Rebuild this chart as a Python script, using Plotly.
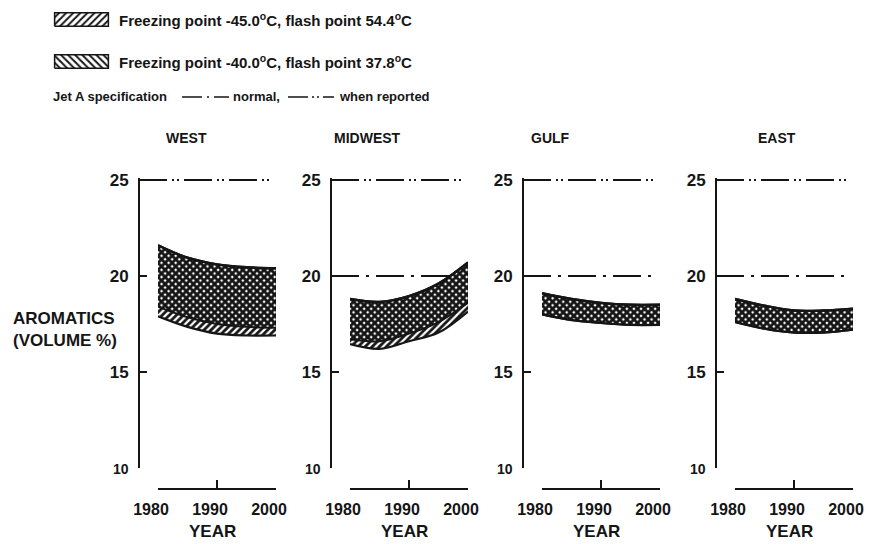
import plotly.graph_objects as go

# ---------------- data ----------------
years = [1980, 1985, 1990, 1995, 2000]
regions = ["WEST", "MIDWEST", "GULF", "EAST"]

# upper edge of both bands (aromatics, volume %)
band_top = {
    "WEST":    [21.6, 20.95, 20.6, 20.45, 20.4],
    "MIDWEST": [18.8, 18.65, 18.95, 19.6, 20.7],
    "GULF":    [19.1, 18.8, 18.6, 18.5, 18.5],
    "EAST":    [18.8, 18.45, 18.2, 18.2, 18.3],
}
# lower edge, freezing point -40.0 C / flash point 37.8 C
low_fp40 = {
    "WEST":    [18.4, 17.85, 17.5, 17.35, 17.3],
    "MIDWEST": [16.7, 16.6, 17.0, 17.6, 18.6],
    "GULF":    [18.0, 17.7, 17.55, 17.45, 17.45],
    "EAST":    [17.6, 17.25, 17.05, 17.05, 17.2],
}
# lower edge, freezing point -45.0 C / flash point 54.4 C
low_fp45 = {
    "WEST":    [17.9, 17.35, 17.0, 16.9, 16.9],
    "MIDWEST": [16.45, 16.2, 16.6, 17.05, 18.15],
    "GULF":    [18.0, 17.7, 17.55, 17.45, 17.45],
    "EAST":    [17.6, 17.25, 17.05, 17.05, 17.2],
}
spec_normal = {"WEST": None, "MIDWEST": 20, "GULF": 20, "EAST": 20}
spec_reported = 25

y_ticks = [10, 15, 20, 25]
y_ticktext = ["<span style='font-size:14px'>10</span>", "15", "20", "25"]
x_ticks = [1980, 1990, 2000]
swatch_x = [0, 1, 1, 0, 0]
swatch_y = [0, 0, 1, 1, 0]

legend_1 = "<b>Freezing point -45.0<sup>o</sup>C, flash point 54.4<sup>o</sup>C</b>"
legend_2 = "<b>Freezing point -40.0<sup>o</sup>C, flash point 37.8<sup>o</sup>C</b>"

# ---------------- layout helpers ----------------
W, H = 869, 544
def fx(px):
    return px / W
def fy(py):
    return 1 - py / H

INK = "#151515"
FONT = "Liberation Sans, Arial, sans-serif"
AX = [139, 331, 523, 716]          # y-axis line positions (px)
DASH_NORMAL = "28px,7px,3px,7px"
DASH_REPORTED = "28px,5px,2px,3px,2px,5px"

fig = go.Figure()
shapes = []
annotations = []
layout = {}

pat_a = dict(shape="/", fgcolor=INK, bgcolor="white", size=5, solidity=0.55, fillmode="replace")
pat_b = dict(shape="\\", fgcolor=INK, bgcolor="rgba(0,0,0,0)", size=5, solidity=0.55, fillmode="replace")

for i, r in enumerate(regions):
    n = i + 1
    xs = "x" if n == 1 else f"x{n}"
    ys = "y" if n == 1 else f"y{n}"
    A = AX[i]
    common = dict(x=years, xaxis=xs, yaxis=ys, mode="lines", line_shape="spline",
                  showlegend=False, hoverinfo="skip")
    # band -45 C (hatched /)
    fig.add_trace(go.Scatter(y=low_fp45[r], line=dict(color=INK, width=2.2), **common))
    fig.add_trace(go.Scatter(y=band_top[r], fill="tonexty", fillcolor="white",
                             fillpattern=pat_a, line=dict(color=INK, width=2.4), **common))
    # band -40 C (hatched \), overlaps to give cross-hatch
    fig.add_trace(go.Scatter(y=low_fp40[r], line=dict(color=INK, width=2.0), **common))
    fig.add_trace(go.Scatter(y=band_top[r], fill="tonexty", fillcolor="rgba(0,0,0,0)",
                             fillpattern=pat_b, line=dict(color=INK, width=2.4), **common))

    xk = "xaxis" if n == 1 else f"xaxis{n}"
    yk = "yaxis" if n == 1 else f"yaxis{n}"
    layout[xk] = dict(domain=[fx(A + 19), fx(A + 137)], range=[1980, 2000],
                      anchor="free", position=fy(489), automargin=False,
                      showline=True, linewidth=2, linecolor=INK,
                      ticks="inside", ticklen=8, tickwidth=2, tickcolor=INK,
                      tickvals=x_ticks, showgrid=False, zeroline=False,
                      ticklabelstandoff=6, ticklabelshift=-7,
                      tickfont=dict(family=FONT, size=16, color=INK, weight="bold"),
                      fixedrange=True)
    layout[yk] = dict(domain=[fy(468), fy(178)], range=[10, 25.1],
                      anchor="free", position=fx(A), side="left", automargin=False,
                      showline=True, linewidth=2, linecolor=INK,
                      ticks="inside", ticklen=7, tickwidth=2, tickcolor=INK,
                      tickvals=y_ticks, ticktext=y_ticktext,
                      showgrid=False, zeroline=False, ticklabelstandoff=6,
                      tickfont=dict(family=FONT, size=17, color=INK, weight="bold"),
                      fixedrange=True)

    # Jet A specification lines
    shapes.append(dict(type="line", xref="paper", yref=ys,
                       x0=fx(A), x1=fx(A + 133), y0=spec_reported, y1=spec_reported,
                       line=dict(color=INK, width=2, dash=DASH_REPORTED), layer="below"))
    if spec_normal[r] is not None:
        shapes.append(dict(type="line", xref="paper", yref=ys,
                           x0=fx(A), x1=fx(A + 133), y0=spec_normal[r], y1=spec_normal[r],
                           line=dict(color=INK, width=2, dash=DASH_NORMAL), layer="below"))

    # region titles and x-axis titles
    title_x = [186, 367, 550, 777][i]
    annotations.append(dict(text=f"<b>{r}</b>", x=fx(title_x), y=fy(138), xref="paper", yref="paper",
                            showarrow=False, xanchor="center", yanchor="middle",
                            font=dict(family=FONT, size=14, color=INK)))
    annotations.append(dict(text="<b>YEAR</b>", x=fx(A + 73), y=fy(531), xref="paper", yref="paper",
                            showarrow=False, xanchor="center", yanchor="middle",
                            font=dict(family=FONT, size=17, color=INK)))

# y-axis label
annotations.append(dict(text="<b>AROMATICS<br>(VOLUME %)</b>", x=fx(11), y=fy(329),
                        xref="paper", yref="paper", showarrow=False, xanchor="left",
                        yanchor="middle", align="left",
                        font=dict(family=FONT, size=17, color=INK)))

# ---------------- legend ----------------
for k, (pat, ytop, ybot, txt, ycen) in enumerate([
        (pat_a, 12, 27, legend_1, 20), (pat_b, 54, 69, legend_2, 61)]):
    n = 5 + k
    fig.add_trace(go.Scatter(x=swatch_x, y=swatch_y, xaxis=f"x{n}", yaxis=f"y{n}",
                             mode="lines", fill="toself", fillcolor="white",
                             fillpattern=dict(pat, bgcolor="white", solidity=0.4),
                             line=dict(color=INK, width=1.5), showlegend=False, hoverinfo="skip"))
    layout[f"xaxis{n}"] = dict(domain=[fx(53), fx(110)], range=[-0.03, 1.03], visible=False,
                               anchor=f"y{n}", fixedrange=True, automargin=False)
    layout[f"yaxis{n}"] = dict(domain=[fy(ybot), fy(ytop)], range=[-0.05, 1.05], visible=False,
                               anchor=f"x{n}", fixedrange=True, automargin=False)
    annotations.append(dict(text=txt, x=fx(117), y=fy(ycen), xref="paper", yref="paper",
                            showarrow=False, xanchor="left", yanchor="middle",
                            font=dict(family=FONT, size=15, color=INK)))

annotations.append(dict(text="<b>Jet A specification</b>", x=fx(51), y=fy(96), xref="paper", yref="paper",
                        showarrow=False, xanchor="left", yanchor="middle",
                        font=dict(family=FONT, size=13, color=INK)))
shapes.append(dict(type="line", xref="paper", yref="paper", x0=fx(182), x1=fx(229),
                   y0=fy(97), y1=fy(97), line=dict(color=INK, width=1.6, dash="20px,5px,2px,5px")))
annotations.append(dict(text="<b>normal,</b>", x=fx(231), y=fy(96), xref="paper", yref="paper",
                        showarrow=False, xanchor="left", yanchor="middle",
                        font=dict(family=FONT, size=13, color=INK)))
shapes.append(dict(type="line", xref="paper", yref="paper", x0=fx(288), x1=fx(334),
                   y0=fy(97), y1=fy(97), line=dict(color=INK, width=1.6, dash="20px,4px,2px,3px,2px,4px")))
annotations.append(dict(text="<b>when reported</b>", x=fx(337), y=fy(96), xref="paper", yref="paper",
                        showarrow=False, xanchor="left", yanchor="middle",
                        font=dict(family=FONT, size=13, color=INK)))

fig.update_layout(width=W, height=H, margin=dict(l=0, r=0, t=0, b=0, autoexpand=False),
                  paper_bgcolor="white", plot_bgcolor="rgba(0,0,0,0)",
                  showlegend=False, shapes=shapes, annotations=annotations, **layout)

fig.write_html("out.html")
